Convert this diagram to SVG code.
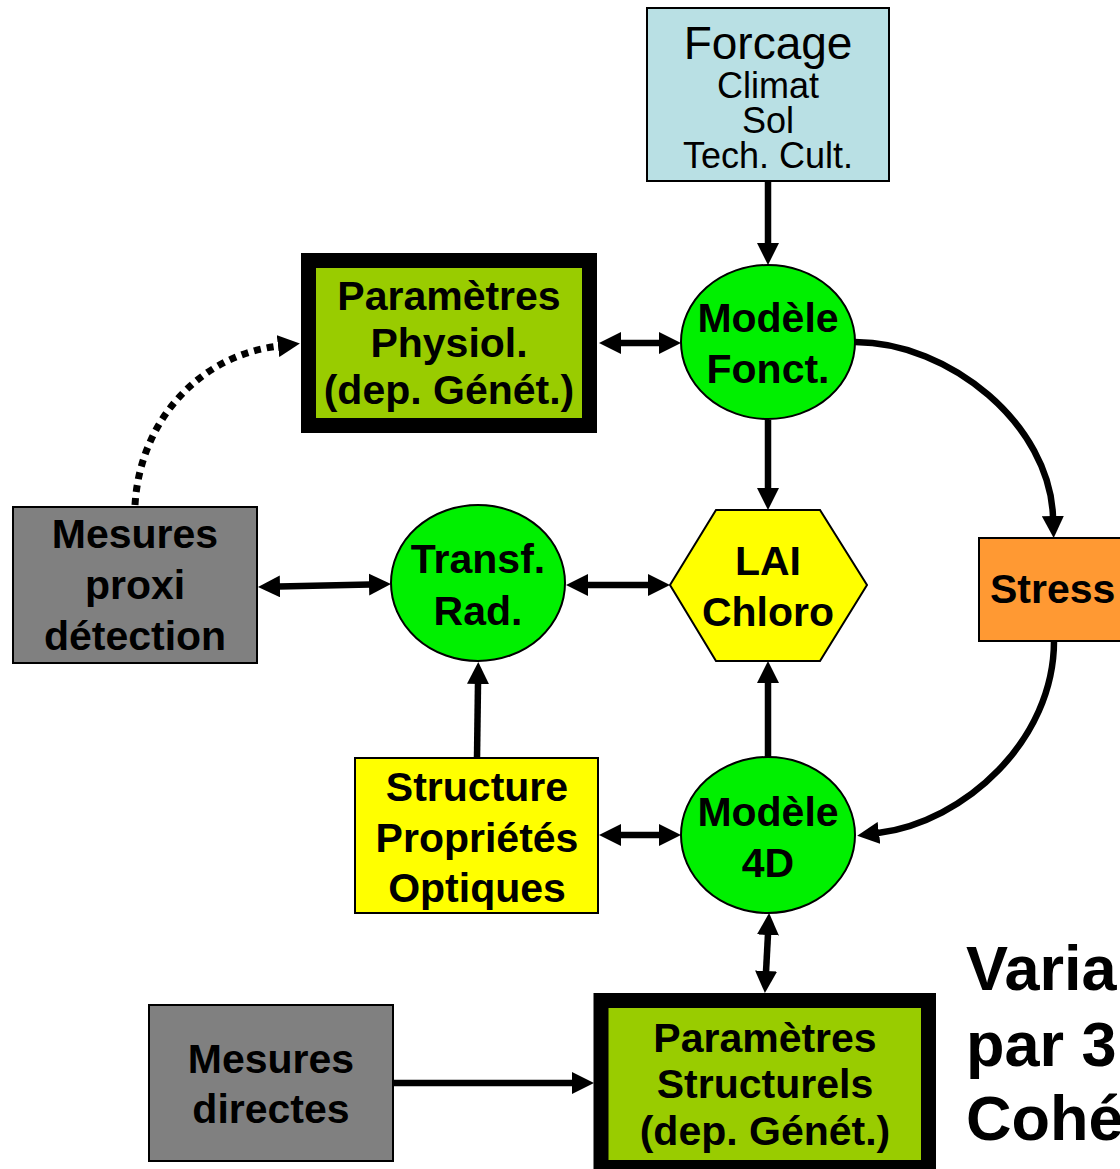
<svg xmlns="http://www.w3.org/2000/svg" width="1120" height="1169" viewBox="0 0 1120 1169">
<style>
  .b { font-family: "Liberation Sans", Arial, sans-serif; font-weight: bold; font-size: 41px; text-anchor: middle; fill: #000; }
  .r { font-family: "Liberation Sans", Arial, sans-serif; font-size: 36px; text-anchor: middle; fill: #000; }
  .big { font-family: "Liberation Sans", Arial, sans-serif; font-weight: bold; font-size: 63px; fill: #000; }
  .box { stroke: #000; stroke-width: 2; }
  .thick { stroke: #000; stroke-width: 15; fill: #99cc00; }
  .ell { fill: #00f000; stroke: #000; stroke-width: 2; }
  .con { fill: none; stroke: #000; stroke-width: 6.5; }
  .arr { marker-end: url(#ah); }
  .dbl { marker-start: url(#ah); marker-end: url(#ah); }
</style>
<defs>
  <marker id="ah" viewBox="0 0 22 22" refX="1" refY="11" markerWidth="22" markerHeight="22" markerUnits="userSpaceOnUse" orient="auto-start-reverse">
    <path d="M0,0 L22,11 L0,22 z" fill="#000"/>
  </marker>
</defs>
<rect width="1120" height="1169" fill="#fff"/>

<g id="connectors">
  <path class="con arr" d="M768,182 L768,244"/>
  <path class="con dbl" d="M620,343 L660,343"/>
  <path class="con arr" d="M768,420 L768,489"/>
  <path class="con dbl" d="M279,586.5 L370,584.5"/>
  <path class="con dbl" d="M587,585 L649,585"/>
  <path class="con arr" d="M477,758 L478,683"/>
  <path class="con arr" d="M768,757 L768,682"/>
  <path class="con dbl" d="M620,835 L660,835"/>
  <path class="con dbl" d="M768,934 L766,972"/>
  <path class="con arr" d="M393,1083 L573,1083"/>
  <path class="con arr" d="M855,342 C950,342 1050,425 1053,517"/>
  <path class="con arr" d="M1054,641 C1054,740 965,822 878,833"/>
  <path d="M135,505 C140,420 200,355 279,346" fill="none" stroke="#000" stroke-width="7" stroke-dasharray="7 6" marker-end="url(#ah)"/>
</g>

<g id="forcage">
  <rect class="box" x="647" y="8" width="242" height="173" fill="#b9e0e4"/>
  <text class="r" x="768" y="59" style="font-size:46px">Forcage</text>
  <text class="r" x="768" y="98">Climat</text>
  <text class="r" x="768" y="133">Sol</text>
  <text class="r" x="768" y="168">Tech. Cult.</text>
</g>

<g id="param-physiol">
  <rect class="thick" x="308.5" y="260.5" width="281" height="165"/>
  <text class="b" x="449" y="310">Paramètres</text>
  <text class="b" x="449" y="357">Physiol.</text>
  <text class="b" x="449" y="404">(dep. Génét.)</text>
</g>

<g id="modele-fonct">
  <ellipse class="ell" cx="768" cy="342" rx="87" ry="77"/>
  <text class="b" x="768" y="332">Modèle</text>
  <text class="b" x="768" y="383">Fonct.</text>
</g>

<g id="mesures-proxi">
  <rect class="box" x="13" y="507" width="244" height="156" fill="#808080"/>
  <text class="b" x="135" y="548">Mesures</text>
  <text class="b" x="135" y="599">proxi</text>
  <text class="b" x="135" y="650">détection</text>
</g>

<g id="transf-rad">
  <ellipse class="ell" cx="478" cy="583" rx="87" ry="78"/>
  <text class="b" x="478" y="573">Transf.</text>
  <text class="b" x="478" y="625">Rad.</text>
</g>

<g id="lai">
  <polygon points="670,585 716,510 820,510 867,585 820,661 716,661" fill="#ffff00" stroke="#000" stroke-width="2"/>
  <text class="b" x="768" y="575">LAI</text>
  <text class="b" x="768" y="626">Chloro</text>
</g>

<g id="stress">
  <rect class="box" x="979" y="538" width="150" height="103" fill="#ff9933"/>
  <text class="b" x="990" y="603" style="text-anchor:start">Stress</text>
</g>

<g id="structure">
  <rect class="box" x="355" y="758" width="243" height="155" fill="#ffff00"/>
  <text class="b" x="477" y="801">Structure</text>
  <text class="b" x="477" y="852">Propriétés</text>
  <text class="b" x="477" y="902">Optiques</text>
</g>

<g id="modele-4d">
  <ellipse class="ell" cx="768" cy="835" rx="87" ry="78"/>
  <text class="b" x="768" y="826">Modèle</text>
  <text class="b" x="768" y="877">4D</text>
</g>

<g id="param-struct">
  <rect class="thick" x="601" y="1000.5" width="327.5" height="167"/>
  <text class="b" x="765" y="1052">Paramètres</text>
  <text class="b" x="765" y="1098">Structurels</text>
  <text class="b" x="765" y="1145">(dep. Génét.)</text>
</g>

<g id="mesures-directes">
  <rect class="box" x="149" y="1005" width="244" height="156" fill="#808080"/>
  <text class="b" x="271" y="1073">Mesures</text>
  <text class="b" x="271" y="1123">directes</text>
</g>

<g id="note">
  <text class="big" x="966" y="990">Varia</text>
  <text class="big" x="966" y="1066">par 3</text>
  <text class="big" x="966" y="1140">Cohé</text>
</g>
</svg>
